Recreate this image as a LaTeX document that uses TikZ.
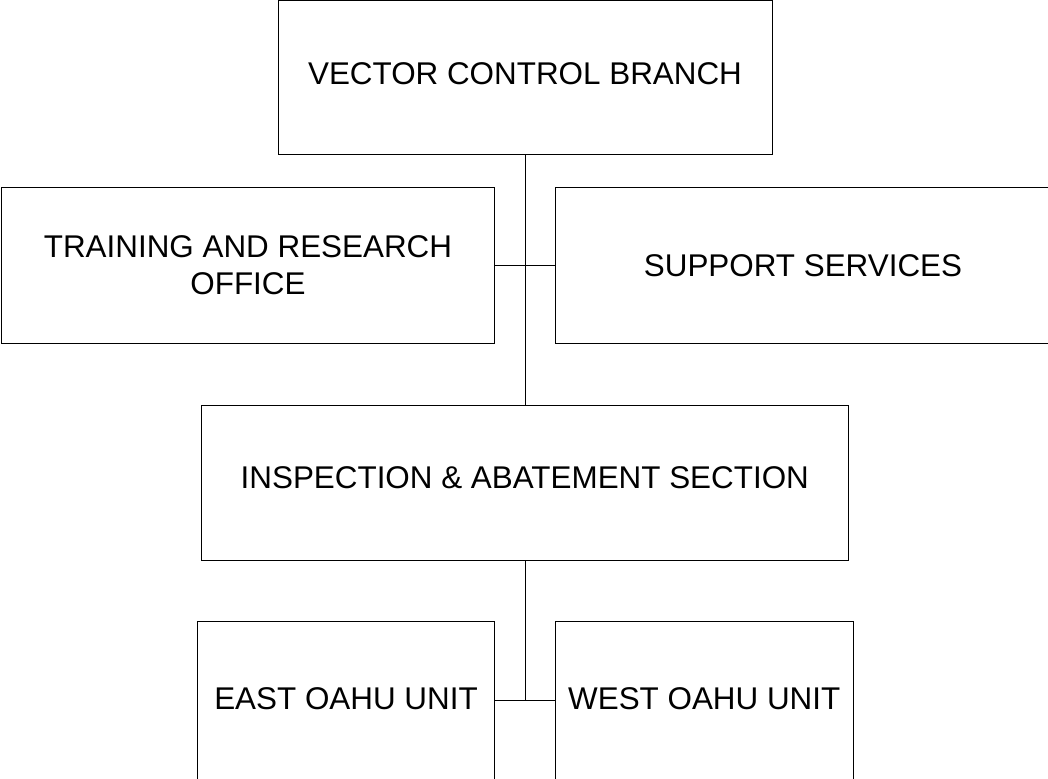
\documentclass[tikz,border=0pt]{standalone}
\usepackage{fontspec}
\setmainfont{Liberation Sans}
\begin{document}
\begin{tikzpicture}[x=1pt,y=-1pt,
  box/.style={draw=black, line width=1pt, rectangle, inner sep=0pt, outer sep=0pt,
    font=\fontsize{31.4}{37.3}\selectfont, align=center},
  oneline/.style={text height=22.5pt, text depth=#1},
  link/.style={draw=black, line width=1pt}]
\useasboundingbox (0,0) rectangle (1048,778);
\clip (0,0) rectangle (1048,778);
\node[box, oneline=8pt, minimum width=494pt, minimum height=154.5pt] (top) at (525,77.75) {VECTOR CONTROL BRANCH};
\node[box, minimum width=493pt, minimum height=156.5pt] (train) at (248,265.25) {TRAINING AND RESEARCH\\OFFICE};
\node[box, oneline=0pt, minimum width=495pt, minimum height=156.5pt] (support) at (803,265.25) {SUPPORT SERVICES};
\node[box, oneline=12pt, minimum width=646.5pt, minimum height=154.5pt] (mid) at (524.75,482.75) {INSPECTION \& ABATEMENT SECTION};
\node[box, oneline=4pt, minimum width=297pt, minimum height=158pt] (east) at (346,700) {EAST OAHU UNIT};
\node[box, oneline=4pt, minimum width=297.5pt, minimum height=158pt] (west) at (704.25,700) {WEST OAHU UNIT};
\coordinate (j1) at (top.south |- mid.north);
\coordinate (j2) at (top.south |- east.east);
\draw[link] (top.south) -- (j1);
\draw[link] (train.east) -- (support.west);
\draw[link] (j1 |- mid.south) -- (j2);
\draw[link] (east.east) -- (west.west);
\end{tikzpicture}
\end{document}
